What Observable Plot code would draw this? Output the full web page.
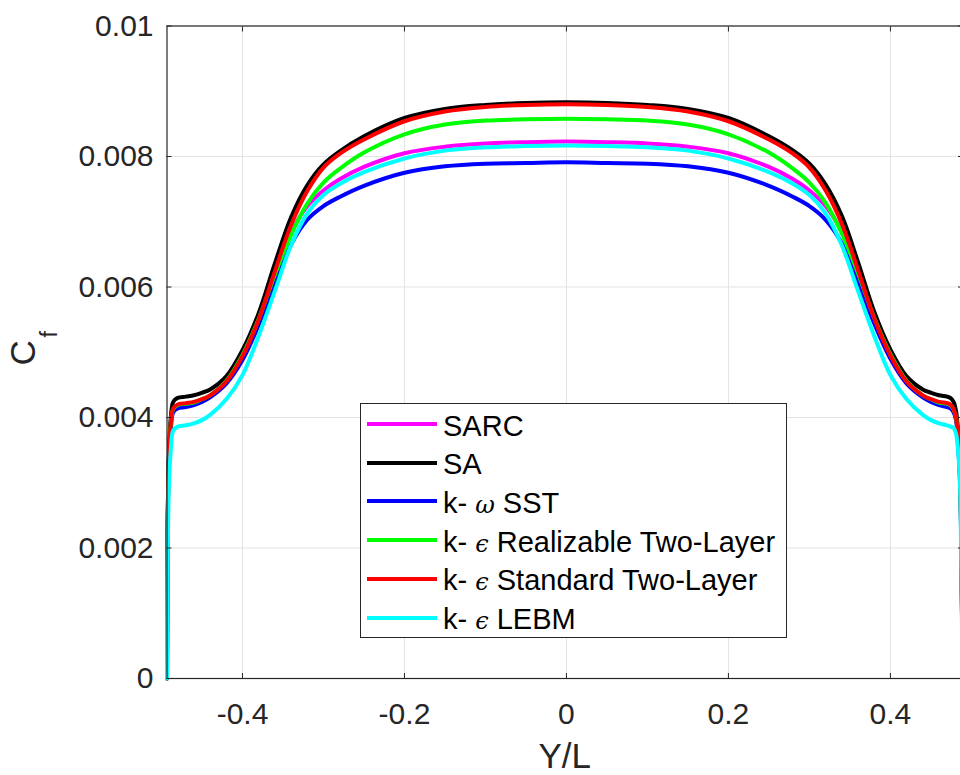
<!DOCTYPE html>
<html>
<head>
<meta charset="utf-8">
<script src="https://cdn.jsdelivr.net/npm/d3@7"></script>
<script src="https://cdn.jsdelivr.net/npm/@observablehq/plot@0.6"></script>
<style>
html, body { margin: 0; padding: 0; background: #fff; overflow: hidden; }
#wrap { position: relative; width: 960px; height: 775px; }
#legend { position: absolute; left: 360px; top: 403px; width: 427px; height: 235px; border: 1.3px solid #262626; background: #fff; box-sizing: border-box; font-family: "Liberation Sans", Arial, sans-serif; font-size: 29px; color: #000; }
#legend .row { position: absolute; left: 0; height: 38px; display: flex; align-items: center; white-space: nowrap; }
#legend .sw { width: 70px; height: 4px; margin-left: 6px; margin-right: 6px; }
#legend .txt { padding-top: 4px; }
#legend .g { font-family: "DejaVu Serif", serif; font-style: italic; font-size: 24px; }
</style>
</head>
<body>
<div id="wrap"></div>
<script>
// ---- data ----
const models = ["SARC", "SA", "k- \u03C9 SST", "k- \u03F5 Realizable Two-Layer", "k- \u03F5 Standard Two-Layer", "k- \u03F5 LEBM"];
const colors = ["#ff00ff", "#000000", "#0000ff", "#00ff00", "#ff0000", "#00ffff"];

const yL = [-0.4932, -0.4925, -0.491, -0.4885, -0.4855, -0.48, -0.47, -0.46, -0.45, -0.44, -0.42, -0.40, -0.38, -0.36, -0.34, -0.32, -0.30, -0.28, -0.25, -0.20, -0.15, -0.10, -0.05, 0,
            0.05, 0.10, 0.15, 0.20, 0.25, 0.28, 0.30, 0.32, 0.34, 0.36, 0.38, 0.40, 0.42, 0.44, 0.45, 0.46, 0.47, 0.474, 0.478, 0.481, 0.4835, 0.486, 0.4875, 0.489];

const cfSARC = [0, 0.0021, 0.0033, 0.0039, 0.00413, 0.00419, 0.00421, 0.00423, 0.00427, 0.00433, 0.00454, 0.00493, 0.00549, 0.00618, 0.00683, 0.00724, 0.00748, 0.00765, 0.00784, 0.00805, 0.00815, 0.0082, 0.00822, 0.00823,
                0.00822, 0.0082, 0.00815, 0.00805, 0.00784, 0.00765, 0.00748, 0.00724, 0.00684, 0.0062, 0.0055, 0.00494, 0.00454, 0.00433, 0.00427, 0.00423, 0.00421, 0.00419, 0.00412, 0.004, 0.0037, 0.0031, 0.0021, 0];
const cfSA = [0, 0.0022, 0.0034, 0.0040, 0.00424, 0.0043, 0.00432, 0.00434, 0.00438, 0.00443, 0.00463, 0.00503, 0.00560, 0.00636, 0.00707, 0.00756, 0.00788, 0.00808, 0.00831, 0.00859, 0.00873, 0.00879, 0.00882, 0.00883,
              0.00882, 0.00879, 0.00873, 0.00859, 0.00831, 0.00809, 0.00789, 0.00757, 0.00709, 0.00638, 0.00562, 0.00504, 0.00463, 0.00443, 0.00438, 0.00434, 0.00432, 0.0043, 0.00424, 0.0041, 0.0038, 0.0032, 0.0022, 0];
const cfSST = [0, 0.0021, 0.0033, 0.0038, 0.00408, 0.00414, 0.00416, 0.00419, 0.00424, 0.00431, 0.00452, 0.00488, 0.00542, 0.00606, 0.00665, 0.00703, 0.00724, 0.00738, 0.00755, 0.00775, 0.00785, 0.00789, 0.0079, 0.00791,
               0.0079, 0.00789, 0.00785, 0.00775, 0.00755, 0.00738, 0.00724, 0.00703, 0.00667, 0.00608, 0.00544, 0.0049, 0.00452, 0.00431, 0.00424, 0.00419, 0.00416, 0.00414, 0.00408, 0.00396, 0.0036, 0.003, 0.002, 0];
const cfRealizable = [0, 0.0021, 0.0033, 0.0039, 0.00413, 0.00419, 0.00421, 0.00423, 0.00428, 0.00434, 0.00456, 0.00496, 0.00551, 0.00619, 0.00680, 0.00728, 0.00760, 0.00781, 0.00806, 0.00834, 0.00849, 0.00855, 0.00857, 0.00858,
                      0.00857, 0.00855, 0.00849, 0.00834, 0.00806, 0.00781, 0.00760, 0.00729, 0.00682, 0.00621, 0.00553, 0.00497, 0.00456, 0.00434, 0.00428, 0.00423, 0.00421, 0.00419, 0.00412, 0.004, 0.0037, 0.0031, 0.0021, 0];
const cfStandard = [0, 0.0021, 0.0033, 0.0039, 0.00414, 0.0042, 0.00422, 0.00424, 0.00428, 0.00434, 0.00455, 0.00494, 0.00550, 0.00624, 0.00695, 0.00747, 0.00783, 0.00804, 0.00826, 0.00854, 0.00869, 0.00876, 0.00879, 0.0088,
                    0.00879, 0.00876, 0.00869, 0.00854, 0.00826, 0.00804, 0.00783, 0.00748, 0.00697, 0.00626, 0.00552, 0.00495, 0.00455, 0.00434, 0.00428, 0.00424, 0.00422, 0.0042, 0.00413, 0.004, 0.0037, 0.0031, 0.0021, 0];
const cfLEBM = [0, 0.0015, 0.0029, 0.0035, 0.0038, 0.00386, 0.00388, 0.00391, 0.00396, 0.00404, 0.00428, 0.00465, 0.00525, 0.00594, 0.00664, 0.00713, 0.00741, 0.00758, 0.00776, 0.00797, 0.00809, 0.00814, 0.00816, 0.00817,
                0.00816, 0.00814, 0.00809, 0.00797, 0.00776, 0.00758, 0.00741, 0.00713, 0.00664, 0.00594, 0.00525, 0.00465, 0.00428, 0.00404, 0.00396, 0.00391, 0.00388, 0.00386, 0.00384, 0.00375, 0.0035, 0.0029, 0.0017, 0];

const xTicks = [-0.4, -0.2, 0, 0.2, 0.4];
const xTickLabels = ["-0.4", "-0.2", "0", "0.2", "0.4"];
const yTicks = [0, 0.002, 0.004, 0.006, 0.008, 0.01];
const yTickLabels = ["0", "0.002", "0.004", "0.006", "0.008", "0.01"];
const xLabel = "Y/L";
const yLabelMain = "C";
const yLabelSub = "f";

// ---- table built from the arrays ----
const seriesValues = [cfSARC, cfSA, cfSST, cfRealizable, cfStandard, cfLEBM];
const rows = [];
models.forEach((m, i) => yL.forEach((x, j) => rows.push({model: m, x, cf: seriesValues[i][j]})));

const ink = "#262626";
const grid = "#e3e3e3";

const chart = Plot.plot({
  width: 960,
  height: 775,
  marginLeft: 166.5,
  marginRight: -2,
  marginTop: 25.5,
  marginBottom: 97,
  x: {domain: [-0.4932, 0.489], range: [166.5, 962]},
  y: {domain: [0, 0.01], range: [678, 25.5]},
  color: {domain: models, range: colors},
  style: {fontFamily: "'Liberation Sans', Arial, sans-serif", fontSize: "30px", color: ink, background: "white"},
  marks: [
    Plot.gridX(xTicks, {stroke: grid, strokeOpacity: 1}),
    Plot.gridY(yTicks, {stroke: grid, strokeOpacity: 1}),
    Plot.line(rows, {x: "x", y: "cf", z: "model", stroke: "model", strokeWidth: 4, curve: "catmull-rom"}),
    Plot.frame({stroke: ink, strokeWidth: 1.2}),
    Plot.axisX(xTicks, {anchor: "bottom", tickSize: 0, tickPadding: 24, tickFormat: d => xTickLabels[xTicks.indexOf(d)], fontSize: 30, fill: ink, label: null}),
    Plot.axisX(xTicks, {anchor: "bottom", tickSize: -5, fill: "none", stroke: ink, label: null}),
    Plot.axisX(xTicks, {anchor: "top", tickSize: -5, fill: "none", stroke: ink, label: null}),
    Plot.axisY(yTicks, {anchor: "left", tickSize: 0, tickPadding: 13.5, tickFormat: d => yTickLabels[yTicks.indexOf(d)], fontSize: 30, fill: ink, label: null}),
    Plot.axisY(yTicks, {anchor: "left", tickSize: -5, fill: "none", stroke: ink, label: null}),
    Plot.axisY(yTicks, {anchor: "right", tickSize: -5, fill: "none", stroke: ink, label: null}),
    Plot.text([xLabel], {frameAnchor: "bottom", text: d => d, dy: 78, fontSize: 35, fill: ink, textAnchor: "middle", lineAnchor: "middle"}),
    Plot.text([yLabelMain], {frameAnchor: "left", text: d => d, dx: -143.5, dy: 0.5, rotate: -90, fontSize: 35, fill: ink, textAnchor: "middle", lineAnchor: "middle"}),
    Plot.text([yLabelSub], {frameAnchor: "left", text: d => d, dx: -117.5, dy: -18, rotate: -90, fontSize: 23, fill: ink, textAnchor: "middle", lineAnchor: "middle"})
  ]
});

const wrap = document.getElementById("wrap");
wrap.appendChild(chart);

// ---- legend (inside the axes, as in the reference) ----
const legend = document.createElement("div");
legend.id = "legend";
models.forEach((m, i) => {
  const row = document.createElement("div");
  row.className = "row";
  row.style.top = (1 + i * 38.7) + "px";
  const sw = document.createElement("div");
  sw.className = "sw";
  sw.style.background = colors[i];
  const txt = document.createElement("span");
  txt.className = "txt";
  txt.innerHTML = m.replace(/([\u03C9\u03F5])/g, '<span class="g">$1</span>');
  row.appendChild(sw);
  row.appendChild(txt);
  legend.appendChild(row);
});
wrap.appendChild(legend);
</script>
</body>
</html>
